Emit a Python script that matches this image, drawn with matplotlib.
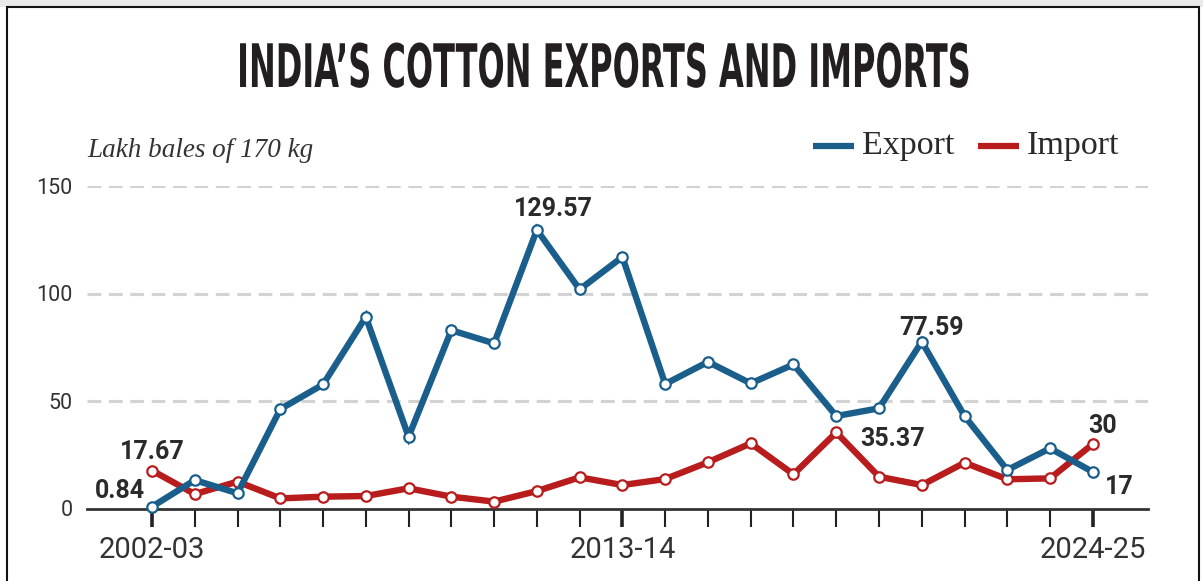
import matplotlib
matplotlib.use("Agg")
import matplotlib.pyplot as plt
from matplotlib.patches import Rectangle
from matplotlib.lines import Line2D
from matplotlib.patheffects import AbstractPathEffect
from matplotlib.transforms import Affine2D

# seasons 2002-03 .. 2024-25, lakh bales of 170 kg
seasons = [f"{y}-{str(y + 1)[-2:]}" for y in range(2002, 2025)]
exports = [0.84, 13.2, 7.1, 46.2, 57.7, 89.1, 33.4, 82.9, 76.8, 129.57, 101.9, 117.0,
           57.9, 68.2, 58.2, 67.0, 43.0, 46.6, 77.59, 43.0, 17.9, 28.0, 17.0]
imports = [17.67, 6.7, 12.5, 4.7, 5.5, 5.8, 9.4, 5.5, 3.2, 8.1, 14.5, 10.9,
           13.7, 21.5, 30.3, 15.9, 35.37, 14.8, 10.9, 21.3, 13.6, 14.0, 30.0]
shown_labels = ["2002-03", "2013-14", "2024-25"]
y_ticks = [0, 50, 100, 150]

BLUE = "#1a5e8c"
RED = "#b81c1c"
INK = "#2a2a2a"

W, H = 1203, 581


class Squeeze(AbstractPathEffect):
    """rescale glyphs around a fixed point (display px) -> condensed, taller look"""

    def __init__(self, sx, sy, cx, cy):
        super().__init__()
        self.sx, self.sy, self.cx, self.cy = sx, sy, cx, cy

    def draw_path(self, renderer, gc, tpath, affine, rgbFace=None):
        t = affine + Affine2D().translate(-self.cx, -self.cy) \
            .scale(self.sx, self.sy).translate(self.cx, self.cy)
        renderer.draw_path(gc, tpath, t, rgbFace)


fig = plt.figure(figsize=(W / 100, H / 100), dpi=100)

# frame + grey strip at the very top
fig.patches.append(Rectangle((0, 1 - 7 / H), 1, 7 / H, transform=fig.transFigure,
                             facecolor="#e9e9e9", edgecolor="none", zorder=0))
fig.patches.append(Rectangle((7 / W, -0.05), (1199 - 7) / W, 1.05 - 7 / H,
                             transform=fig.transFigure, facecolor="none",
                             edgecolor="#111111", lw=1.5, zorder=1))

left, right = 87 / W, 1148 / W
bottom, top = 1 - 508.5 / H, 1 - 186 / H
ax = fig.add_axes([left, bottom, right - left, top - bottom])

x = list(range(len(seasons)))
ax.plot(x, exports, color=BLUE, lw=4.6, marker="o", ms=7.5, mfc="white", mec=BLUE,
        mew=1.6, solid_joinstyle="miter", zorder=4, clip_on=False)
ax.plot(x, imports, color=RED, lw=4.6, marker="o", ms=7.5, mfc="white", mec=RED,
        mew=1.6, solid_joinstyle="miter", zorder=3, clip_on=False)

ax.set_xlim(-1.52, 23.29)
ax.set_ylim(0, 150)

for s in ["top", "right", "left"]:
    ax.spines[s].set_visible(False)
ax.spines["bottom"].set_color("#333333")
ax.spines["bottom"].set_linewidth(2)

# dashed grid
for v in y_ticks[1:]:
    ax.axhline(v, color="#d2d2d2", lw=2.2, dashes=(4.5, 2.5), zorder=1)

ax.set_yticks(y_ticks)
ax.tick_params(axis="y", length=0, pad=10.5, labelsize=15.5, labelcolor="#333333")
for lab in ax.get_yticklabels():
    lab.set_fontfamily(["Roboto", "DejaVu Sans"])

major_pos = [seasons.index(s) for s in shown_labels]
ax.set_xticks(major_pos)
ax.set_xticklabels(shown_labels, fontsize=21, color="#333333", family=["Roboto", "DejaVu Sans"])
ax.set_xticks(x, minor=True)
ax.tick_params(axis="x", which="major", direction="out", length=13, width=2.6,
               color="#222222", pad=7)
ax.tick_params(axis="x", which="minor", direction="out", length=13, width=1.5,
               color="#222222")

# value annotations
ann = dict(fontsize=18, fontweight="bold", color=INK, family=["Roboto", "DejaVu Sans"])
ax.annotate("17.67", (0, imports[0]), xytext=(0, 5), textcoords="offset points",
            ha="center", va="bottom", **ann)
ax.annotate("0.84", (0, exports[0]), xytext=(-5, 3), textcoords="offset points",
            ha="right", va="bottom", **ann)
ax.annotate("129.57", (9, exports[9]), xytext=(12, 6.5), textcoords="offset points",
            ha="center", va="bottom", **ann)
ax.annotate("77.59", (18, exports[18]), xytext=(7, 1), textcoords="offset points",
            ha="center", va="bottom", **ann)
ax.annotate("35.37", (16, imports[16]), xytext=(17, -5), textcoords="offset points",
            ha="left", va="center", **ann)
ax.annotate("30", (22, imports[22]), xytext=(7, 4), textcoords="offset points",
            ha="center", va="bottom", **ann)
ax.annotate("17", (22, exports[22]), xytext=(9, -11), textcoords="offset points",
            ha="left", va="center", **ann)

# title (condensed via path effect), unit, legend
title_x, title_base = 604, 87
fig.text(title_x / W, 1 - title_base / H, "INDIA\u2019S COTTON EXPORTS AND IMPORTS",
         ha="center", va="baseline", fontsize=36, fontweight="bold",
         color="#231f20", family=["DejaVu Sans"],
         path_effects=[Squeeze(0.64, 1.2, title_x, H - title_base)])
fig.text(87 / W, 1 - 150 / H, "Lakh bales of 170 kg", ha="left", va="center",
         fontsize=19.5, style="italic", color="#333333",
         family=["Liberation Serif", "DejaVu Serif"])

for x0, col, txt in [(813, BLUE, "Export"), (978, RED, "Import")]:
    fig.lines.append(Line2D([x0 / W, (x0 + 41) / W], [1 - 146 / H] * 2,
                            transform=fig.transFigure, color=col, lw=4.5,
                            solid_capstyle="butt"))
    fig.text((x0 + 49) / W, 1 - 146 / H, txt, ha="left", va="center", fontsize=24.5,
             color="#2a2a2a", family=["Liberation Serif", "DejaVu Serif"])

fig.savefig("out.png", dpi=100)
